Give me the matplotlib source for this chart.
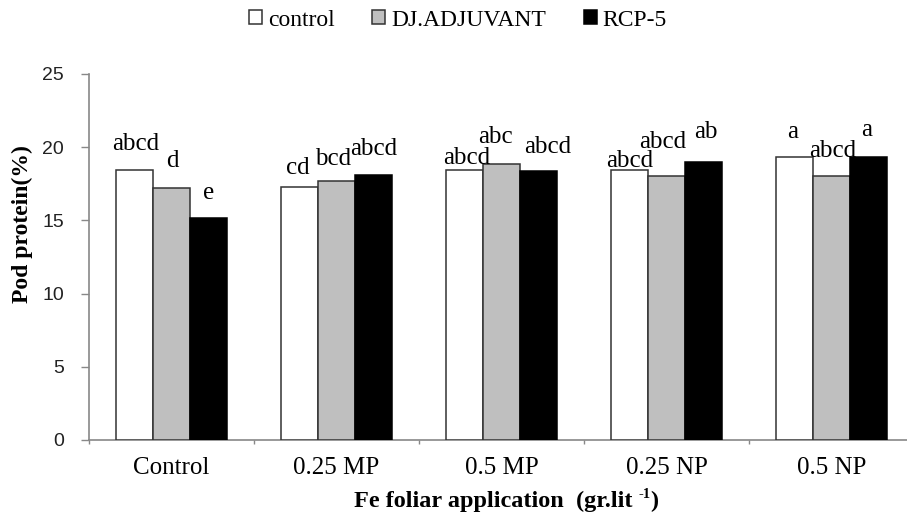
import matplotlib
matplotlib.use("Agg")
import matplotlib.pyplot as plt
import numpy as np

# ---- data ----
groups = ["Control", "0.25 MP", "0.5 MP", "0.25 NP", "0.5 NP"]
series_names = ["control", "DJ.ADJUVANT", "RCP-5"]
control_vals = [18.45, 17.28, 18.45, 18.45, 19.35]
adjuvant_vals = [17.2, 17.7, 18.85, 18.05, 18.05]
rcp5_vals = [15.15, 18.1, 18.35, 19.0, 19.35]
control_letters = ["abcd", "cd", "abcd", "abcd", "a"]
adjuvant_letters = ["d", "bcd", "abc", "abcd", "abcd"]
rcp5_letters = ["e", "abcd", "abcd", "ab", "a"]
y_ticks = [0, 5, 10, 15, 20, 25]

# ---- style / placement ----
fills = ["white", "#bfbfbf", "black"]
edges = ["#333333", "#333333", "black"]
# label offsets (dx, dy) in pixels relative to bar top-centre (text baseline)
label_offsets = [
    [(1, 20), (-2, 13), (2, 6), (0, 3), (-2, 19)],
    [(1, 21), (-3, 16), (-6, 21), (-4, 28), (1, 19)],
    [(0, 19), (0, 20), (9, 18), (2, 24), (-2, 21)],
]

serif = "Liberation Serif"
W, H = 907, 516
fig = plt.figure(figsize=(W / 100, H / 100), dpi=100)
ax = fig.add_axes([89 / W, (H - 440) / H, 825 / W, 366 / H])

n = len(groups)
x = np.arange(n)
bw = 0.224
all_vals = [control_vals, adjuvant_vals, rcp5_vals]
all_letters = [control_letters, adjuvant_letters, rcp5_letters]
handles = []
for i, vals in enumerate(all_vals):
    pos = x + (i - 1) * bw
    b = ax.bar(pos, vals, width=bw, color=fills[i], edgecolor=edges[i],
               linewidth=1.1, label=series_names[i], zorder=3)
    handles.append(b)
    for j, (p, v) in enumerate(zip(pos, vals)):
        dx, dy = label_offsets[i][j]
        ax.annotate(all_letters[i][j], (p, v), xytext=(dx, dy),
                    textcoords="offset pixels", ha="center", va="baseline",
                    fontsize=18, family=serif, color="black", zorder=4)

ax.set_xlim(-0.5, n - 0.5)
ax.set_ylim(0, 25)
ax.set_yticks(y_ticks)
ax.set_yticklabels([str(t) for t in y_ticks], family="Liberation Sans", fontsize=14,
                   color="#222222")
ax.tick_params(axis="y", direction="out", length=6, width=1, color="#888888", pad=12)

ax.set_xticks(np.arange(n + 1) - 0.5)
ax.set_xticklabels([])
ax.tick_params(axis="x", which="major", direction="out", length=3, width=1, color="#888888")
ax.set_xticks(x, minor=True)
ax.set_xticklabels(groups, minor=True, family=serif, fontsize=18)
ax.tick_params(axis="x", which="minor", length=0, pad=12)

for s in ["top", "right"]:
    ax.spines[s].set_visible(False)
for s in ["left", "bottom"]:
    ax.spines[s].set_color("#888888")
    ax.spines[s].set_linewidth(1.2)

fig.text(22 / W, (H - 224) / H, "Pod protein(%)", rotation=90, ha="center", va="center",
         family=serif, fontsize=17, fontweight="bold")

# x label built from pieces so the superscript "-1" is a small raised hyphen-one
renderer = fig.canvas.get_renderer()
base_y = (H - 507) / H
t1 = fig.text(0, base_y, "Fe foliar application  (gr.lit ", ha="left", va="baseline",
              family=serif, fontsize=17.5, fontweight="bold")
t2 = fig.text(0, base_y + 9 / H, "-1", ha="left", va="baseline",
              family=serif, fontsize=10.5, fontweight="bold")
t3 = fig.text(0, base_y, ")", ha="left", va="baseline",
              family=serif, fontsize=17.5, fontweight="bold")
w1 = t1.get_window_extent(renderer).width
w2 = t2.get_window_extent(renderer).width
w3 = t3.get_window_extent(renderer).width
start = 506 - (w1 + w2 + w3) / 2
t1.set_x(start / W)
t2.set_x((start + w1) / W)
t3.set_x((start + w1 + w2) / W)

fig.legend(handles=handles, labels=series_names, loc="center",
           bbox_to_anchor=(458 / W, (H - 20) / H), ncol=3, frameon=False,
           prop={"family": serif, "size": 17}, handlelength=0.55, handleheight=0.55,
           handletextpad=0.25, columnspacing=1.6)

fig.savefig("out.png", dpi=100)
